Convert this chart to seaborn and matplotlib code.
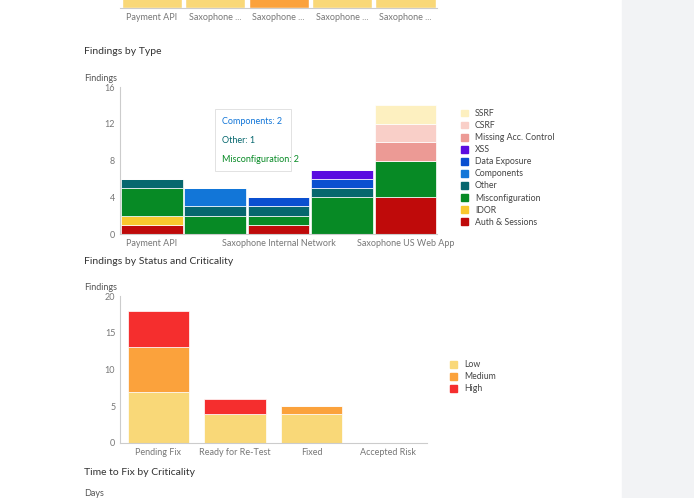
import matplotlib
matplotlib.use("Agg")
import matplotlib.pyplot as plt
import seaborn as sns
import pandas as pd
from matplotlib.patches import Patch, Rectangle

sns.set_style("white")
plt.rcParams['font.family'] = ['Lato', 'DejaVu Sans']

# ── data ─────────────────────────────────────────────
apps = ['Payment API', 'Saxophone Mobile App', 'Saxophone Internal Network',
        'Saxophone Cloud', 'Saxophone US Web App']
app_ticks = ['Payment API', '', 'Saxophone Internal Network', '', 'Saxophone US Web App']
top_ticks = ['Payment API', 'Saxophone ...', 'Saxophone ...', 'Saxophone ...', 'Saxophone ...']
top_vals = [1, 1, 1, 1, 1]

types = ['Auth & Sessions', 'IDOR', 'Misconfiguration', 'Other', 'Components',
         'Data Exposure', 'XSS', 'Missing Acc. Control', 'CSRF', 'SSRF']
type_counts = {
    'Auth & Sessions':      [1, 0, 1, 0, 4],
    'IDOR':                 [1, 0, 0, 0, 0],
    'Misconfiguration':     [3, 2, 1, 4, 4],
    'Other':                [1, 1, 1, 1, 0],
    'Components':           [0, 2, 0, 0, 0],
    'Data Exposure':        [0, 0, 1, 1, 0],
    'XSS':                  [0, 0, 0, 1, 0],
    'Missing Acc. Control': [0, 0, 0, 0, 2],
    'CSRF':                 [0, 0, 0, 0, 2],
    'SSRF':                 [0, 0, 0, 0, 2],
}
type_colors = ['#bf0a0a', '#f9c82e', '#078a25', '#06676e', '#1276d8',
               '#0a4fd0', '#5a0ce0', '#ec9a95', '#f9cfc8', '#fdf0c0']

statuses = ['Pending Fix', 'Ready for Re-Test', 'Fixed', 'Accepted Risk']
crit = ['Low', 'Medium', 'High']
crit_counts = {'Low': [7, 4, 4, 0], 'Medium': [6, 0, 1, 0], 'High': [5, 2, 0, 0]}
crit_colors = ['#f9d878', '#fba23c', '#f52e2e']

fig = plt.figure(figsize=(6.94, 4.98), dpi=100)
fig.patches.append(Rectangle((622 / 694, 0), 1, 1, transform=fig.transFigure,
                             color='#f2f3f5', zorder=-1))
grey = '#777777'
spine = '#cccccc'


def style(ax):
    sns.despine(ax=ax)
    for s in ['left', 'bottom']:
        ax.spines[s].set_color(spine)
    ax.tick_params(axis='both', labelsize=6.5, colors=grey, length=0)


# ── partial chart on top ─────────────────────────────
ax0 = fig.add_axes([0.173, 1 - 8 / 498, 0.457, 0.05])
sns.barplot(x=list(range(5)), y=top_vals, ax=ax0, width=0.95, saturation=1,
            palette=['#f9d878', '#f9d878', '#fba23c', '#f9d878', '#f9d878'], hue=list(range(5)), legend=False)
ax0.set_xticks(range(5), top_ticks)
ax0.set_yticks([])
ax0.set_ylabel('')
style(ax0)
ax0.spines['left'].set_visible(False)

# ── Findings by Type ─────────────────────────────────
df1 = pd.DataFrame(type_counts, index=apps)
ax1 = fig.add_axes([0.173, 1 - 234 / 498, 0.457, 147 / 498])
bottom = pd.Series(0, index=apps)
for t, c in zip(types, type_colors):
    sns.barplot(x=apps, y=df1[t].values, bottom=bottom.values, color=c, width=0.97,
                saturation=1, ax=ax1, edgecolor='white', linewidth=0.5)
    bottom += df1[t]
ax1.set_ylim(0, 16)
ax1.set_yticks([0, 4, 8, 12, 16])
ax1.set_xticks(range(5), app_ticks)
style(ax1)
ax1.text(-0.01, 1.04, 'Findings', transform=ax1.transAxes, ha='right', fontsize=6.5, color='#555555')
handles = [Patch(color=c, label=t) for t, c in zip(types, type_colors)][::-1]
ax1.legend(handles=handles, loc='center left', bbox_to_anchor=(1.05, 0.45), frameon=False,
           fontsize=6.3, handlelength=0.8, handleheight=0.8, labelspacing=0.35, labelcolor='#444444')
ax1.text(0.32, 0.75, 'Components: 2', transform=ax1.transAxes, fontsize=6.5, color='#1276d8')
ax1.text(0.32, 0.62, 'Other: 1', transform=ax1.transAxes, fontsize=6.5, color='#06676e')
ax1.text(0.32, 0.49, 'Misconfiguration: 2', transform=ax1.transAxes, fontsize=6.5, color='#078a25')
ax1.add_patch(Rectangle((0.3, 0.43), 0.24, 0.42, transform=ax1.transAxes, fill=True,
                        facecolor='white', edgecolor='#dddddd', linewidth=0.6, zorder=0.5))
fig.text(84 / 694, 1 - 52 / 498, 'Findings by Type', fontsize=7.5, color='#333333', va='center')

# ── Findings by Status and Criticality ───────────────
df2 = pd.DataFrame(crit_counts, index=statuses)
ax2 = fig.add_axes([0.173, 1 - 443 / 498, 0.442, 147 / 498])
bottom = pd.Series(0, index=statuses)
for k, c in zip(crit, crit_colors):
    sns.barplot(x=statuses, y=df2[k].values, bottom=bottom.values, color=c, width=0.8,
                saturation=1, ax=ax2, edgecolor='white', linewidth=0.5)
    bottom += df2[k]
ax2.set_ylim(0, 20)
ax2.set_yticks([0, 5, 10, 15, 20])
style(ax2)
ax2.text(-0.01, 1.04, 'Findings', transform=ax2.transAxes, ha='right', fontsize=6.5, color='#555555')
handles = [Patch(color=c, label=k) for k, c in zip(crit, crit_colors)]
ax2.legend(handles=handles, loc='center left', bbox_to_anchor=(1.05, 0.45), frameon=False,
           fontsize=6.3, handlelength=0.8, handleheight=0.8, labelspacing=0.35, labelcolor='#444444')
fig.text(84 / 694, 1 - 261 / 498, 'Findings by Status and Criticality', fontsize=7.5, color='#333333', va='center')

fig.text(84 / 694, 1 - 472 / 498, 'Time to Fix by Criticality', fontsize=7.5, color='#333333', va='center')
fig.text(84 / 694, 1 - 493 / 498, 'Days', fontsize=6.5, color='#555555', va='center')

fig.savefig('out.png', dpi=100)
